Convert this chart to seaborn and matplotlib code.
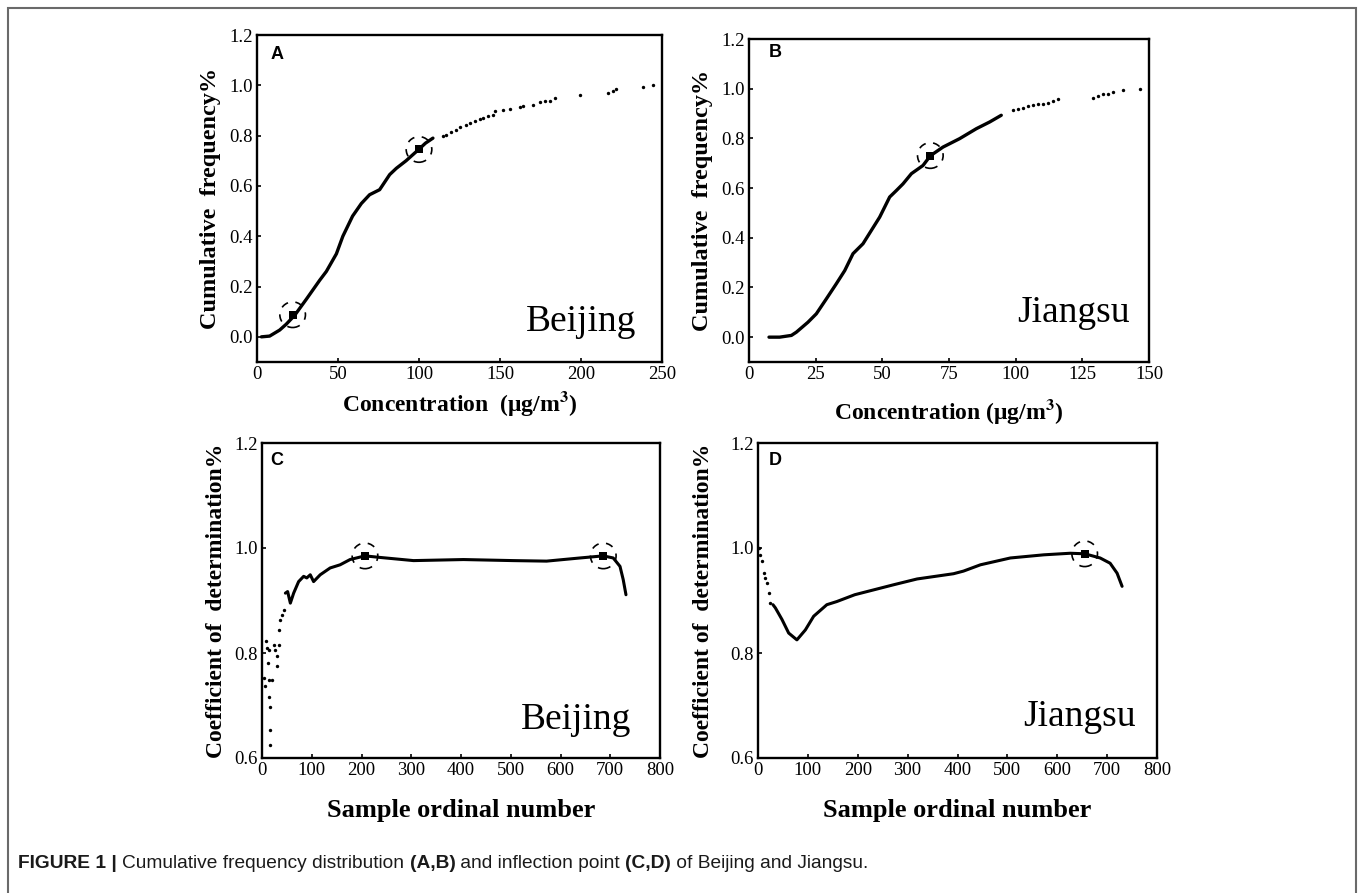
import matplotlib
matplotlib.use("Agg")
import matplotlib.pyplot as plt
from matplotlib.patches import Rectangle
import seaborn as sns

sns.set_theme(style="ticks")
plt.rcParams["font.family"] = ["Liberation Serif", "DejaVu Serif"]
plt.rcParams["mathtext.fontset"] = "stix"
plt.rcParams["text.color"] = "black"
plt.rcParams["axes.labelcolor"] = "black"

# --- Panel A: Beijing cumulative frequency ---
beijing_conc = [2.7, 7.8, 14, 18, 23.3, 30.5, 38.7, 42.8, 49, 53, 59, 64.4, 69.5,
                75.7, 81.9, 86, 92, 100, 104, 108.6]
beijing_cum = [0.0, 0.003, 0.027, 0.05, 0.086, 0.15, 0.225, 0.26, 0.33, 0.40, 0.48,
               0.53, 0.565, 0.585, 0.645, 0.67, 0.70, 0.746, 0.77, 0.79]
beijing_tail_conc = [114.8, 116.9, 120, 123, 125.1, 129.2, 131.3, 134.4, 137.4, 139.5,
                     142.6, 145.7, 146.7, 151.9, 156, 162.1, 164.2, 170.4, 174.5, 177.6,
                     180.7, 183.7, 199.2, 216.7, 219.8, 221.8, 238.3, 244.4]
beijing_tail_cum = [0.797, 0.804, 0.813, 0.823, 0.834, 0.843, 0.850, 0.857, 0.866, 0.870,
                    0.876, 0.883, 0.896, 0.903, 0.906, 0.914, 0.916, 0.923, 0.932, 0.936,
                    0.939, 0.950, 0.960, 0.969, 0.977, 0.984, 0.992, 1.0]
beijing_knee_conc = [22, 100]
beijing_knee_cum = [0.088, 0.745]

# --- Panel B: Jiangsu cumulative frequency ---
jiangsu_conc = [7.5, 11.5, 15.9, 17.75, 22.1, 25.25, 29, 32.75, 35.9, 39, 42.75, 45.9,
                49, 52.75, 55.25, 57.75, 60.9, 65.25, 68, 72.75, 79, 85.25, 90.25, 94.6]
jiangsu_cum = [0.0, 0.0, 0.007, 0.02, 0.06, 0.094, 0.154, 0.215, 0.268, 0.336, 0.376,
               0.43, 0.483, 0.564, 0.59, 0.617, 0.658, 0.691, 0.73, 0.765, 0.799, 0.839,
               0.866, 0.893]
jiangsu_tail_conc = [99, 100.9, 102.75, 104.6, 106.5, 108.4, 110.25, 112.1, 114, 115.9,
                     129, 130.9, 132.75, 134.6, 136.5, 140.25, 146.5]
jiangsu_tail_cum = [0.913, 0.919, 0.923, 0.929, 0.933, 0.937, 0.940, 0.944, 0.950, 0.957,
                    0.964, 0.969, 0.977, 0.980, 0.987, 0.993, 0.997]
jiangsu_knee_conc = [68]
jiangsu_knee_cum = [0.731]

# --- Panel C: Beijing coefficient of determination ---
beijing_r2_dot_n = [3.3, 6.7, 8.7, 10, 11.4, 13.4, 13.4, 13.4, 15.4, 15.4, 16.7, 20, 23.4,
                    26.8, 30, 30, 33.5, 33.5, 36.8, 40.8, 44.5]
beijing_r2_dot_val = [0.752, 0.737, 0.822, 0.81, 0.781, 0.749, 0.717, 0.806, 0.698, 0.654,
                      0.625, 0.749, 0.816, 0.806, 0.775, 0.794, 0.816, 0.844, 0.863, 0.873,
                      0.882]
beijing_r2_n = [47, 51.5, 57, 63.6, 73.6, 83.7, 90, 97, 103.7, 117, 137, 157, 177, 207,
                237.6, 304.5, 405, 505, 572, 639, 686, 706, 719.6, 726, 731.6]
beijing_r2_val = [0.914, 0.917, 0.895, 0.914, 0.936, 0.946, 0.943, 0.949, 0.936, 0.949,
                  0.962, 0.968, 0.978, 0.985, 0.982, 0.976, 0.978, 0.976, 0.975, 0.981,
                  0.985, 0.981, 0.965, 0.94, 0.911]
beijing_r2_knee_n = [207, 686]
beijing_r2_knee_val = [0.985, 0.985]

# --- Panel D: Jiangsu coefficient of determination ---
jiangsu_r2_dot_n = [1.3, 4.7, 8, 11.4, 14.7, 18, 21.4, 24.7]
jiangsu_r2_dot_val = [1.0, 0.987, 0.975, 0.952, 0.943, 0.933, 0.914, 0.895]
jiangsu_r2_n = [30, 34.8, 48, 61.5, 78, 95, 111.6, 138, 158, 194, 218.6, 272, 318.9, 392,
                412, 446, 506, 573, 626, 655, 686, 706, 720, 730]
jiangsu_r2_val = [0.892, 0.886, 0.864, 0.838, 0.825, 0.844, 0.87, 0.892, 0.898, 0.911,
                  0.917, 0.930, 0.941, 0.951, 0.956, 0.968, 0.981, 0.987, 0.990, 0.989,
                  0.981, 0.971, 0.952, 0.927]
jiangsu_r2_knee_n = [655]
jiangsu_r2_knee_val = [0.989]

W, H = 1358, 893
fig = plt.figure(figsize=(W / 100, H / 100), dpi=100)
fig.patch.set_facecolor("white")


def px_axes(left, top, right, bottom):
    return fig.add_axes([left / W, 1 - bottom / H, (right - left) / W, (bottom - top) / H])


def style_axes(ax, letter, city, city_pos, letter_pos):
    ax.set_facecolor("white")
    for sp in ax.spines.values():
        sp.set_visible(True)
        sp.set_linewidth(1.7)
        sp.set_color("black")
    ax.tick_params(direction="in", length=3, width=1.2, labelsize=13.5, colors="black",
                   pad=3, top=False, right=False)
    ax.text(*letter_pos, letter, transform=ax.transAxes, fontsize=13, fontweight="bold",
            family=["Liberation Sans", "DejaVu Sans"], ha="center", va="center")
    ax.text(*city_pos, city, transform=ax.transAxes, fontsize=27, ha="center", va="center")
    ax.grid(False)


def draw_knees(ax, xs, ys):
    sns.scatterplot(x=xs, y=ys, ax=ax, marker="s", s=28, color="black", edgecolor="black",
                    linewidth=0, zorder=5)
    ax.scatter(xs, ys, s=340, facecolors="none", edgecolors="black", linewidths=1.2,
               linestyles=(0, (4.5, 4.5)), zorder=5)


# A
axA = px_axes(257, 35, 662, 362)
sns.lineplot(x=beijing_conc, y=beijing_cum, ax=axA, color="black", linewidth=2.4, sort=False)
sns.scatterplot(x=beijing_tail_conc, y=beijing_tail_cum, ax=axA, color="black", s=6,
                linewidth=0)
draw_knees(axA, beijing_knee_conc, beijing_knee_cum)
axA.set_xlim(0, 250)
axA.set_ylim(-0.1, 1.2)
axA.set_xticks([0, 50, 100, 150, 200, 250])
axA.set_yticks([0.0, 0.2, 0.4, 0.6, 0.8, 1.0, 1.2])
axA.set_yticklabels(["0.0", "0.2", "0.4", "0.6", "0.8", "1.0", "1.2"])
axA.set_xlabel(r"Concentration  (μg/m$^{\mathbf{3}}$)", fontsize=17, fontweight="bold", labelpad=4)
axA.set_ylabel("Cumulative  frequency%", fontsize=17.5, fontweight="bold", labelpad=6)
style_axes(axA, "A", "Beijing", (0.80, 0.122), (0.05, 0.94))

# B
axB = px_axes(749, 39, 1149, 362)
sns.lineplot(x=jiangsu_conc, y=jiangsu_cum, ax=axB, color="black", linewidth=2.4, sort=False)
sns.scatterplot(x=jiangsu_tail_conc, y=jiangsu_tail_cum, ax=axB, color="black", s=6,
                linewidth=0)
draw_knees(axB, jiangsu_knee_conc, jiangsu_knee_cum)
axB.set_xlim(0, 150)
axB.set_ylim(-0.1, 1.2)
axB.set_xticks([0, 25, 50, 75, 100, 125, 150])
axB.set_yticks([0.0, 0.2, 0.4, 0.6, 0.8, 1.0, 1.2])
axB.set_yticklabels(["0.0", "0.2", "0.4", "0.6", "0.8", "1.0", "1.2"])
axB.set_xlabel(r"Concentration (μg/m$^{\mathbf{3}}$)", fontsize=17, fontweight="bold", labelpad=10)
axB.set_ylabel("Cumulative  frequency%", fontsize=17.5, fontweight="bold", labelpad=6)
style_axes(axB, "B", "Jiangsu", (0.81, 0.152), (0.065, 0.957))

# C
axC = px_axes(262, 443, 660, 758)
sns.scatterplot(x=beijing_r2_dot_n, y=beijing_r2_dot_val, ax=axC, color="black", s=6,
                linewidth=0)
sns.lineplot(x=beijing_r2_n, y=beijing_r2_val, ax=axC, color="black", linewidth=2.2, sort=False)
draw_knees(axC, beijing_r2_knee_n, beijing_r2_knee_val)
axC.set_xlim(0, 800)
axC.set_ylim(0.6, 1.2)
axC.set_xticks(range(0, 801, 100))
axC.set_yticks([0.6, 0.8, 1.0, 1.2])
axC.set_yticklabels(["0.6", "0.8", "1.0", "1.2"])
axC.set_xlabel("Sample ordinal number", fontsize=19, fontweight="bold", labelpad=14)
axC.set_ylabel("Coefficient of  determination%", fontsize=17, fontweight="bold", labelpad=5)
style_axes(axC, "C", "Beijing", (0.79, 0.12), (0.038, 0.946))

# D
axD = px_axes(758, 443, 1157, 758)
sns.scatterplot(x=jiangsu_r2_dot_n, y=jiangsu_r2_dot_val, ax=axD, color="black", s=6,
                linewidth=0)
sns.lineplot(x=jiangsu_r2_n, y=jiangsu_r2_val, ax=axD, color="black", linewidth=2.2, sort=False)
draw_knees(axD, jiangsu_r2_knee_n, jiangsu_r2_knee_val)
axD.set_xlim(0, 800)
axD.set_ylim(0.6, 1.2)
axD.set_xticks(range(0, 801, 100))
axD.set_yticks([0.6, 0.8, 1.0, 1.2])
axD.set_yticklabels(["0.6", "0.8", "1.0", "1.2"])
axD.set_xlabel("Sample ordinal number", fontsize=19, fontweight="bold", labelpad=14)
axD.set_ylabel("Coefficient of  determination%", fontsize=17, fontweight="bold", labelpad=12)
style_axes(axD, "D", "Jiangsu", (0.807, 0.13), (0.043, 0.946))

# figure frame
fig.patches.append(Rectangle((7.5 / W, -0.05), (1356 - 7.5) / W, 1.05 - 8 / H,
                             transform=fig.transFigure, fill=False, edgecolor="#6a6a6a",
                             linewidth=1.5))

# caption, drawn piece by piece
pieces = [("FIGURE 1 | ", "bold"), ("Cumulative frequency distribution ", "normal"),
          ("(A,B)", "bold"), (" and inflection point ", "normal"), ("(C,D)", "bold"),
          (" of Beijing and Jiangsu.", "normal")]
renderer = fig.canvas.get_renderer()
x = 18
for txt, weight in pieces:
    t = fig.text(x / W, 1 - 864 / H, txt, fontsize=13.8, fontweight=weight,
                 family=["Liberation Sans", "DejaVu Sans"], ha="left", va="center",
                 color="#1a1a1a")
    x += t.get_window_extent(renderer=renderer).width

fig.savefig("out.png", dpi=100, facecolor="white")
